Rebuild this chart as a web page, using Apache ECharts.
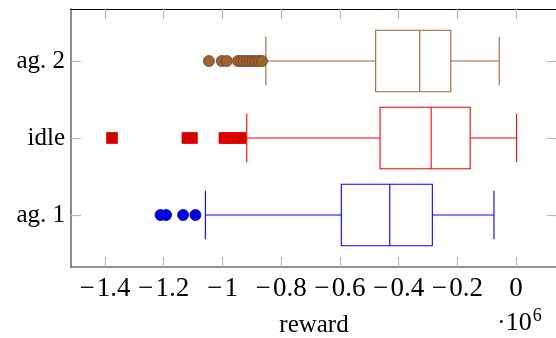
<!DOCTYPE html>
<html><head><meta charset="utf-8">
<script src="https://cdn.jsdelivr.net/npm/echarts@6/dist/echarts.min.js"></script>
<style>html,body{margin:0;padding:0;background:#fff}#c{width:556px;height:338px}</style>
</head><body><div id="c"></div>
<script>
// Categories (bottom to top)
const categories = ['ag. 1', 'idle', 'ag. 2'];
// Box stats in units of 1e6: [lowerWhisker, Q1, median, Q3, upperWhisker]
const boxAg1  = [-1.058, -0.595, -0.430, -0.285, -0.075];
const boxIdle = [-0.917, -0.463, -0.289, -0.156,  0.002];
const boxAg2  = [-0.852, -0.478, -0.328, -0.222, -0.057];
// Outliers
const outAg1  = [-1.211, -1.192, -1.134, -1.092];
const outIdle = [-1.376, -1.119, -1.104, -0.993, -0.981, -0.971, -0.961, -0.951, -0.938];
const outAg2  = [-1.046, -1.002, -0.985, -0.947, -0.937, -0.927, -0.916, -0.906, -0.896, -0.886, -0.875, -0.865];
// Tick values
const xTicks = [-1.4, -1.2, -1, -0.8, -0.6, -0.4, -0.2, 0];
const yTicks = [1, 2, 3];
const xTitle = 'reward';

const colors = ['#0000ff', '#ff0000', '#996633'];
const boxes = [boxAg1, boxIdle, boxAg2];

const FONT = '"Liberation Serif", "DejaVu Serif", serif';
const chart = echarts.init(document.getElementById('c'), null, {renderer: 'canvas'});

function fmtX(v) {
  const r = Math.round(v * 10) / 10;
  if (r === 0) return '0';
  return (r < 0 ? '\u2212\u200a' : '') + String(Math.abs(r));
}

const boxData = boxes.map((b, i) => [i + 1].concat(b));

const xMin = -1.5158, xMax = 0.1397;
const yMin = 0.3247, yMax = 3.6753;

chart.setOption({
  animation: false,
  backgroundColor: '#fff',
  grid: {left: 71, top: 9, width: 486, height: 258, containLabel: false, outerBoundsMode: 'none'},
  xAxis: [{
    type: 'value', min: xMin, max: xMax, position: 'bottom',
    splitLine: {show: false},
    axisLine: {show: true, onZero: false, lineStyle: {color: '#6e6e6e', width: 1.6}},
    axisTick: {show: true, inside: true, length: 10, customValues: xTicks, lineStyle: {color: '#b8b8b8', width: 1.2}},
    axisLabel: {customValues: xTicks, formatter: fmtX, margin: 8, color: '#000', fontFamily: FONT, fontSize: 27}
  }, {
    type: 'value', min: xMin, max: xMax, position: 'top',
    splitLine: {show: false},
    axisLine: {show: true, onZero: false, lineStyle: {color: '#000', width: 1}},
    axisTick: {show: true, inside: true, length: 10, customValues: xTicks, lineStyle: {color: '#b8b8b8', width: 1.2}},
    axisLabel: {show: false}
  }],
  yAxis: [{
    type: 'value', min: yMin, max: yMax, position: 'left',
    splitLine: {show: false},
    axisLine: {show: true, onZero: false, lineStyle: {color: '#6e6e6e', width: 1.6}},
    axisTick: {show: true, inside: true, length: 10, customValues: yTicks, lineStyle: {color: '#b8b8b8', width: 1.2}},
    axisLabel: {customValues: yTicks, formatter: v => categories[Math.round(v) - 1] || '', margin: 6, color: '#000', fontFamily: FONT, fontSize: 25}
  }, {
    type: 'value', min: yMin, max: yMax, position: 'right',
    splitLine: {show: false},
    axisLine: {show: true, onZero: false, lineStyle: {color: '#6e6e6e', width: 1}},
    axisTick: {show: true, inside: true, length: 10, customValues: yTicks, lineStyle: {color: '#b8b8b8', width: 1.2}},
    axisLabel: {show: false}
  }],
  graphic: [{
    type: 'text', x: 314, y: 325,
    style: {text: xTitle, fontFamily: FONT, fontSize: 25, fill: '#000', textAlign: 'center', textVerticalAlign: 'middle'}
  }, {
    type: 'text', left: 497, top: 307,
    style: {
      text: '{a|\u00b710}{b|6}',
      rich: {
        a: {fontFamily: FONT, fontSize: 26, fill: '#000'},
        b: {fontFamily: FONT, fontSize: 18, fill: '#000', padding: [0, 0, 14, 1]}
      }
    }
  }],
  series: [{
    type: 'custom',
    xAxisIndex: 0, yAxisIndex: 0,
    data: boxData,
    encode: {x: [1, 2, 3, 4, 5], y: 0},
    renderItem: function (params, api) {
      const y = api.value(0);
      const lo = api.value(1), q1 = api.value(2), md = api.value(3), q3 = api.value(4), hi = api.value(5);
      const col = colors[params.dataIndex];
      const bh = 0.4, ch = 0.316;
      const p = (x, yy) => api.coord([x, yy]);
      const st = {stroke: col, lineWidth: 1.1, fill: null};
      const line = (a, b) => ({type: 'line', shape: {x1: a[0], y1: a[1], x2: b[0], y2: b[1]}, style: st});
      const tl = p(q1, y + bh), br = p(q3, y - bh);
      return {type: 'group', children: [
        {type: 'rect', shape: {x: tl[0], y: tl[1], width: br[0] - tl[0], height: br[1] - tl[1]}, style: {stroke: col, lineWidth: 1.1, fill: 'rgba(255,255,255,0)'}},
        line(p(md, y + bh), p(md, y - bh)),
        line(p(lo, y), p(q1, y)),
        line(p(q3, y), p(hi, y)),
        line(p(lo, y + ch), p(lo, y - ch)),
        line(p(hi, y + ch), p(hi, y - ch))
      ]};
    }
  }, {
    type: 'scatter', symbol: 'circle', symbolSize: 11,
    data: outAg1.map(v => [v, 1]),
    itemStyle: {color: '#0000e0', borderColor: '#0000c0', borderWidth: 0.8, opacity: 1}
  }, {
    type: 'scatter', symbol: 'rect', symbolSize: 11,
    data: outIdle.map(v => [v, 2]),
    itemStyle: {color: '#cc0000', borderColor: '#ff0000', borderWidth: 0.8, opacity: 1}
  }, {
    type: 'scatter', symbol: 'circle', symbolSize: 11,
    data: outAg2.map(v => [v, 3]),
    itemStyle: {color: '#9c6430', borderColor: '#6b4522', borderWidth: 0.8, opacity: 1}
  }]
});
</script></body></html>
